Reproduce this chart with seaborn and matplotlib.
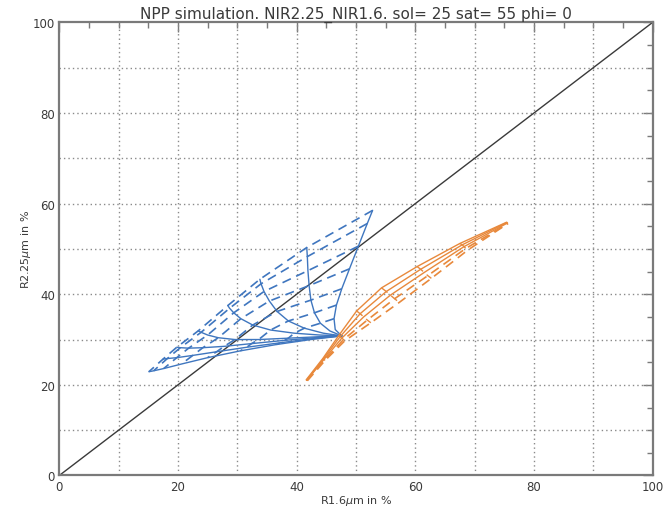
import matplotlib
matplotlib.use("Agg")
import matplotlib.pyplot as plt
import pandas as pd
import seaborn as sns
from matplotlib.ticker import MultipleLocator

# ---------------------------------------------------------------------------
# Look-up table: rows are effective-radius curves, columns are optical-depth
# levels (first column is the thin-cloud / surface point).
# ---------------------------------------------------------------------------
blue_r16 = [
    [47.6, 46.5, 46.3, 46.7, 47.6, 48.9, 50.4, 51.9, 52.8],
    [47.6, 45.6, 44.0, 43.0, 42.4, 42.1, 41.9, 41.8, 41.7],
    [47.6, 44.5, 41.3, 38.6, 36.7, 35.4, 34.5, 34.0, 33.8],
    [47.6, 43.8, 39.6, 35.6, 32.6, 30.6, 29.4, 28.7, 28.4],
    [47.6, 43.4, 38.6, 33.6, 29.6, 26.8, 25.0, 23.9, 23.4],
    [47.6, 43.0, 37.8, 32.4, 27.8, 24.2, 21.8, 20.4, 19.8],
    [47.6, 42.7, 37.3, 31.6, 26.5, 22.5, 19.8, 18.2, 17.5],
    [47.6, 42.4, 36.6, 30.5, 25.0, 20.6, 17.6, 15.9, 15.1],
]
blue_r225 = [
    [30.8, 32.2, 34.6, 37.6, 41.2, 45.6, 50.6, 55.6, 58.5],
    [30.8, 31.9, 33.6, 35.9, 38.7, 41.9, 45.2, 48.3, 50.3],
    [30.8, 31.4, 32.5, 34.1, 36.2, 38.5, 40.6, 42.3, 43.3],
    [30.8, 31.0, 31.4, 32.1, 33.2, 34.6, 35.9, 36.9, 37.5],
    [30.8, 30.6, 30.3, 30.0, 30.0, 30.4, 31.0, 31.6, 31.9],
    [30.8, 30.4, 29.8, 29.1, 28.5, 28.2, 28.1, 28.2, 28.3],
    [30.8, 30.2, 29.3, 28.3, 27.3, 26.5, 26.0, 25.8, 25.7],
    [30.8, 30.0, 28.9, 27.5, 26.0, 24.6, 23.6, 23.1, 22.9],
]
blue_dashed_cols = [2, 3, 4, 5, 6, 7, 8]

orange_r16 = [
    [41.6, 44.4, 47.1, 50.1, 54.3, 60.3, 67.5, 75.4],
    [41.7, 44.5, 47.3, 50.7, 55.1, 60.9, 67.9, 75.4],
    [41.7, 44.6, 47.6, 51.3, 55.8, 61.5, 68.2, 75.5],
    [41.7, 44.7, 47.9, 51.9, 56.5, 62.1, 68.5, 75.6],
    [41.8, 44.8, 48.1, 52.5, 57.3, 62.7, 68.9, 75.6],
]
orange_r225 = [
    [21.1, 25.8, 30.9, 36.3, 41.4, 46.1, 51.2, 55.9],
    [21.0, 25.7, 30.6, 35.7, 40.6, 45.5, 50.9, 55.8],
    [21.0, 25.6, 30.3, 35.0, 39.8, 44.8, 50.5, 55.7],
    [21.0, 25.5, 30.0, 34.3, 39.0, 44.1, 50.1, 55.6],
    [20.9, 25.4, 29.7, 33.7, 38.2, 43.5, 49.8, 55.6],
]
orange_solid_rows = [0, 1, 2]
orange_dashed_rows = [3, 4]
orange_dashed_cols = [1, 2, 3, 4, 5, 6, 7]

diag_x = [0, 100]
diag_y = [0, 100]

title = "NPP simulation. NIR2.25_NIR1.6. sol= 25 sat= 55 phi= 0"
xlabel = r"R1.6$\mu$m in %"
ylabel = r"R2.25$\mu$m in %"
tick_values = [0, 20, 40, 60, 80, 100]

BLUE = "#3f76bf"
ORANGE = "#e8893c"
GRID = "#8a8a8a"
FRAME = "#7a7a7a"
TEXT = "#3a3a3a"


def rows_frame(xs, ys, rows):
    recs = []
    for i in rows:
        for x, y in zip(xs[i], ys[i]):
            recs.append({"line": i, "r16": x, "r225": y})
    return pd.DataFrame(recs)


def cols_frame(xs, ys, cols, rows):
    recs = []
    for j in cols:
        for i in rows:
            recs.append({"line": j, "r16": xs[i][j], "r225": ys[i][j]})
    return pd.DataFrame(recs)


def draw(ax, df, color, lw, dashed=False):
    before = len(ax.lines)
    sns.lineplot(data=df, x="r16", y="r225", units="line", estimator=None,
                 sort=False, color=color, linewidth=lw, legend=False, ax=ax)
    for ln in ax.lines[before:]:
        if dashed:
            ln.set_dashes((5.5, 3.5))
        ln.set_zorder(3)


sns.set_style("white")
plt.rcParams["font.family"] = ["DejaVu Sans"]
plt.rcParams["mathtext.fontset"] = "dejavusans"

fig = plt.figure(figsize=(6.63, 5.10), dpi=100)
ax = fig.add_axes([0.0894, 0.0657, 0.8951, 0.8886])

# dotted grid every 10 %
for g in range(10, 100, 10):
    ax.axvline(g, color=GRID, lw=1.0, dashes=(1.0, 2.2), zorder=1)
    ax.axhline(g, color=GRID, lw=1.0, dashes=(1.0, 2.2), zorder=1)

# 1:1 line
sns.lineplot(x=diag_x, y=diag_y, color="#3a3a3a", linewidth=1.0, ax=ax,
             legend=False)

# blue LUT: solid radius curves, dashed optical-depth curves
nb = len(blue_r16)
draw(ax, rows_frame(blue_r16, blue_r225, range(nb)), BLUE, 1.0)
draw(ax, cols_frame(blue_r16, blue_r225, blue_dashed_cols, range(nb)), BLUE,
     1.2, dashed=True)

# orange LUT
no = len(orange_r16)
draw(ax, rows_frame(orange_r16, orange_r225, orange_solid_rows), ORANGE, 1.0)
draw(ax, rows_frame(orange_r16, orange_r225, orange_dashed_rows), ORANGE, 1.2,
     dashed=True)
draw(ax, cols_frame(orange_r16, orange_r225, orange_dashed_cols, range(no)),
     ORANGE, 1.0, dashed=True)

ax.set_xlim(0, 100)
ax.set_ylim(0, 100)
ax.set_xticks(tick_values)
ax.set_yticks(tick_values)
ax.xaxis.set_minor_locator(MultipleLocator(5))
ax.yaxis.set_minor_locator(MultipleLocator(5))
ax.tick_params(which="both", direction="in", top=True, right=True,
               color=FRAME, labelcolor=TEXT, labelsize=8.5)
ax.tick_params(which="major", length=7, width=1.0, pad=3)
ax.tick_params(which="minor", length=4, width=1.0)
for s in ax.spines.values():
    s.set_color(FRAME)
    s.set_linewidth(1.6)

ax.set_xlabel(xlabel, fontsize=8, color=TEXT, labelpad=0)
ax.set_ylabel(ylabel, fontsize=8, color=TEXT, labelpad=0)
ax.set_title(title, fontsize=11, color=TEXT, pad=3)

fig.savefig("out.png", dpi=100)
